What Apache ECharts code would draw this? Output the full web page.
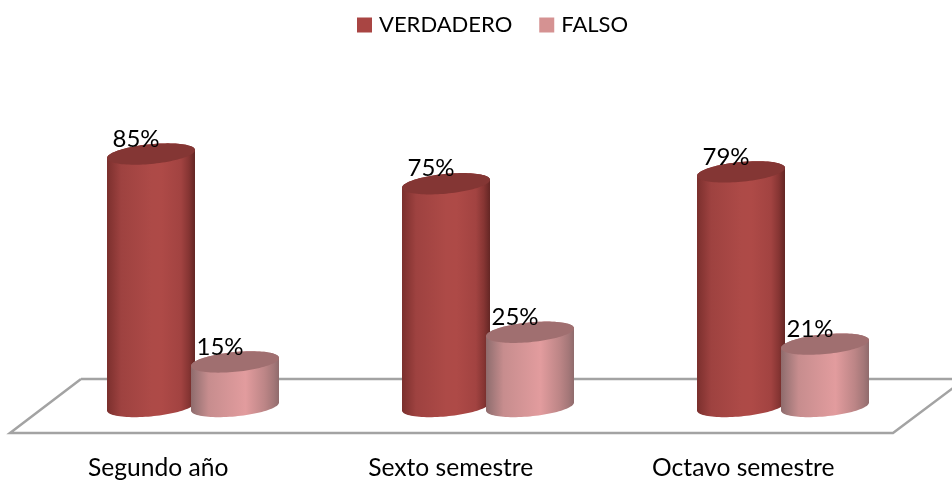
<!DOCTYPE html>
<html>
<head>
<meta charset="utf-8">
<style>html,body{margin:0;padding:0;background:#fff}#c{width:952px;height:481px}</style>
<script src="https://cdn.jsdelivr.net/npm/echarts@6/dist/echarts.min.js"></script>
</head>
<body>
<div id="c"></div>
<script>
const categories = ['Segundo año', 'Sexto semestre', 'Octavo semestre'];
const verdadero = [85, 75, 79];
const falso = [15, 25, 21];

const FONT = 'Lato';
const LABEL_SIZE = 24;
const AXIS_SIZE = 24.6;
const LEGEND_SIZE = 22;

function stops(list) {
  return { type: 'linear', x: 0, y: 0, x2: 1, y2: 0,
    colorStops: list.map(s => ({ offset: s[0], color: s[1] })) };
}
const redBody = stops([[0,'#7a2f2d'],[0.04,'#843432'],[0.16,'#9e4240'],[0.5,'#ad4a47'],[0.62,'#ae4a47'],[0.84,'#a24341'],[0.93,'#863533'],[1,'#632624']]);
const pinkBody = stops([[0,'#8f6a6b'],[0.05,'#9c7576'],[0.2,'#c78d8e'],[0.62,'#e29c9e'],[0.84,'#bc8586'],[0.94,'#a47778'],[1,'#8f6b6c']]);

// Tilted-ellipse cylinder, sized from the band width and placed from the value scale
function cylinder(side, bodyFill, capFill) {
  return function (params, api) {
    const band = api.size([1, 0])[0];
    const a = band * 44 / 295;
    const center = api.coord([api.value(0), 0])[0] + side * band * 42 / 295;
    const yBase = api.coord([api.value(0), 0])[1];
    const yTop = api.coord([api.value(0), api.value(1)])[1];
    const b = 9.9, tilt = 4;
    const pt = (t, cy) => [center + a * Math.cos(t), cy + b * Math.sin(t) - tilt * Math.cos(t)];
    const body = [], cap = [];
    const N = 48;
    for (let i = 0; i <= N; i++) body.push(pt(Math.PI - Math.PI * i / N, yBase));
    for (let i = 0; i <= N; i++) body.push(pt(2 * Math.PI - Math.PI * i / N, yTop));
    for (let i = 0; i < 2 * N; i++) cap.push(pt(Math.PI * i / N, yTop));
    return {
      type: 'group',
      children: [
        { type: 'polygon', shape: { points: body }, style: { fill: bodyFill } },
        { type: 'polygon', shape: { points: cap }, style: { fill: capFill } },
        { type: 'text', style: {
            text: api.value(1) + '%', x: center - 15, y: yTop - 15,
            align: 'center', verticalAlign: 'middle',
            font: LABEL_SIZE + 'px ' + FONT, fill: '#000' } }
      ]
    };
  };
}

function seriesOf(name, values, side, body, cap, color, z) {
  return {
    name, type: 'custom', xAxisIndex: 0, yAxisIndex: 0, z, clip: false,
    itemStyle: { color },
    encode: { x: 0, y: 1 },
    data: values.map((v, i) => [categories[i], v]),
    renderItem: cylinder(side, body, cap),
    animation: false
  };
}

const chart = echarts.init(document.getElementById('c'), null, { renderer: 'canvas' });
chart.setOption({
  animation: false,
  backgroundColor: '#fff',
  legend: {
    left: 352, top: 9, icon: 'rect', itemWidth: 15, itemHeight: 15, itemGap: 27,
    textStyle: { fontFamily: FONT, fontSize: LEGEND_SIZE, color: '#000', padding: [0, 0, 0, 2] },
    data: ['VERDADERO', 'FALSO']
  },
  grid: [
    { left: 45.5, width: 885, top: 109.5, height: 297 },
    { left: 12, width: 877.5, top: 109.5, height: 323.5 }
  ],
  xAxis: [
    { type: 'category', gridIndex: 0, data: categories, show: false },
    { type: 'category', gridIndex: 1, data: categories,
      axisLine: { show: false }, axisTick: { show: false },
      axisLabel: { margin: 25, fontFamily: FONT, fontSize: AXIS_SIZE, color: '#000' } }
  ],
  yAxis: [
    { type: 'value', gridIndex: 0, min: 0, max: 100, show: false },
    { type: 'value', gridIndex: 1, min: 0, max: 100, show: false }
  ],
  graphic: [{
    type: 'polyline', z: 0, silent: true,
    shape: { points: [[81, 379], [10, 433], [893, 433], [965, 379], [81, 379]] },
    style: { stroke: '#a3a3a3', lineWidth: 2.5, fill: 'none' }
  }],
  series: [
    seriesOf('VERDADERO', verdadero, -1, redBody, '#843634', '#a94543', 3),
    seriesOf('FALSO', falso, 1, pinkBody, '#a06f70', '#d59292', 4)
  ]
});
</script>
</body>
</html>
